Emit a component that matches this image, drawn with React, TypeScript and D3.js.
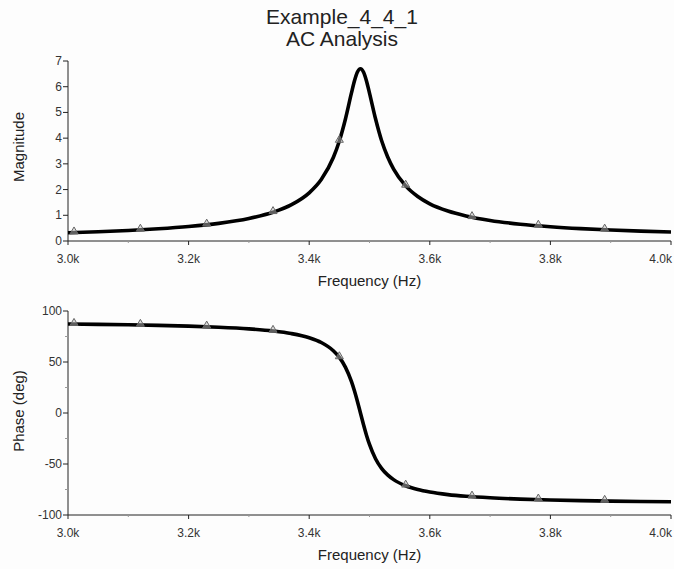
import React from "react";
import * as d3 from "d3";

const freqHz = [3000, 3050, 3100, 3150, 3200, 3250, 3300, 3340, 3370, 3400, 3420, 3440, 3450, 3460, 3470, 3475, 3480, 3485, 3490, 3495, 3500, 3510, 3520, 3530, 3540, 3560, 3580, 3600, 3630, 3660, 3700, 3750, 3800, 3850, 3900, 3950, 4000];
const magnitude = [0.32, 0.36, 0.41, 0.475, 0.562, 0.686, 0.876, 1.118, 1.404, 1.874, 2.391, 3.245, 3.89, 4.736, 5.748, 6.222, 6.571, 6.7, 6.571, 6.224, 5.753, 4.753, 3.908, 3.279, 2.798, 2.144, 1.731, 1.447, 1.166, 0.975, 0.8, 0.654, 0.555, 0.482, 0.427, 0.383, 0.348];
const phaseDeg = [87.26, 86.92, 86.49, 85.94, 85.19, 84.12, 82.49, 80.39, 77.9, 73.76, 69.09, 61.03, 54.51, 45.02, 30.93, 21.78, 11.28, 0, -11.27, -21.72, -30.84, -44.82, -54.25, -60.72, -65.33, -71.33, -75.03, -77.51, -79.99, -81.65, -83.15, -84.4, -85.25, -85.88, -86.35, -86.72, -87.02];

const markerFreqHz = [3010, 3120, 3230, 3340, 3450, 3560, 3670, 3780, 3890];
const markerMag = [0.327, 0.434, 0.631, 1.118, 3.89, 2.144, 0.923, 0.59, 0.437];
const markerPhase = [87.2, 86.29, 84.6, 80.39, 54.51, -71.33, -82.08, -84.95, -86.26];

const xTicks = [3000, 3200, 3400, 3600, 3800, 4000];
const xTickLabels = ["3.0k", "3.2k", "3.4k", "3.6k", "3.8k", "4.0k"];
const xMinorTicks = [3100, 3300, 3500, 3700, 3900];
const magTicks = [0, 1, 2, 3, 4, 5, 6, 7];
const phaseTicks = [-100, -50, 0, 50, 100];
const phaseMinorTicks = [-75, -25, 25, 75];

const W = 674;
const H = 569;
const left = 68;
const right = 671;

const x = d3.scaleLinear().domain([3000, 4000]).range([left, right]);
const yMag = d3.scaleLinear().domain([0, 7]).range([241, 61]);
const yPh = d3.scaleLinear().domain([-100, 100]).range([515, 311]);

const font = "'Liberation Sans', Arial, sans-serif";

function Panel({ y, ticks, minor, values, mFreq, mVals, yLabel, labelY }: any) {
  const [y0, y1] = y.range();
  const line = d3
    .line<number>()
    .x((_, i) => x(freqHz[i]))
    .y((v) => y(v))
    .curve(d3.curveMonotoneX);
  const tri = d3.symbol().type(d3.symbolTriangle).size(28)();
  return (
    <g>
      <line x1={left} x2={left} y1={y1} y2={y0} stroke="#222" strokeWidth={1} />
      <line x1={left} x2={right} y1={y0} y2={y0} stroke="#222" strokeWidth={1} />
      {ticks.map((t: number) => (
        <g key={"yt" + t}>
          <line x1={left - 5} x2={left} y1={y(t)} y2={y(t)} stroke="#222" />
          <text x={left - 6} y={y(t) + 4} textAnchor="end" fontSize={12} fill="#333" fontFamily={font}>
            {t}
          </text>
        </g>
      ))}
      {minor.map((t: number) => (
        <line key={"ym" + t} x1={left - 3} x2={left} y1={y(t)} y2={y(t)} stroke="#999" />
      ))}
      {xTicks.map((t, i) => (
        <g key={"xt" + t}>
          <line x1={x(t)} x2={x(t)} y1={y0} y2={y0 + 4} stroke="#222" />
          <text
            x={i === xTicks.length - 1 ? x(t) + 1 : x(t)}
            y={y0 + 22}
            textAnchor={i === xTicks.length - 1 ? "end" : "middle"}
            fontSize={12}
            fill="#333"
            fontFamily={font}
          >
            {xTickLabels[i]}
          </text>
        </g>
      ))}
      {xMinorTicks.map((t) => (
        <line key={"xm" + t} x1={x(t)} x2={x(t)} y1={y0} y2={y0 + 2} stroke="#999" />
      ))}
      <text x={(left + right) / 2} y={y0 + 45} textAnchor="middle" fontSize={15} fill="#222" fontFamily={font}>
        Frequency (Hz)
      </text>
      <text
        transform={`translate(24,${labelY}) rotate(-90)`}
        textAnchor="middle"
        fontSize={15}
        fill="#222"
        fontFamily={font}
      >
        {yLabel}
      </text>
      <path d={line(values) || ""} fill="none" stroke="#000" strokeWidth={3.6} strokeLinejoin="round" />
      {mFreq.map((f: number, i: number) => (
        <path
          key={"m" + i}
          d={tri || ""}
          transform={`translate(${x(f)},${y(mVals[i]) - 1})`}
          fill="#bbb"
          fillOpacity={0.5}
          stroke="#666"
          strokeWidth={1}
        />
      ))}
    </g>
  );
}

export default function App() {
  return (
    <svg
      width={W}
      height={H}
      style={{ position: "absolute", left: 0, top: 0, background: "#fdfdfd" }}
    >
      <text x={342} y={24} textAnchor="middle" fontSize={21} fill="#222" fontFamily={font}>
        Example_4_4_1
      </text>
      <text x={342} y={46} textAnchor="middle" fontSize={21} fill="#222" fontFamily={font}>
        AC Analysis
      </text>
      <Panel
        y={yMag}
        ticks={magTicks}
        minor={[]}
        values={magnitude}
        mFreq={markerFreqHz}
        mVals={markerMag}
        yLabel="Magnitude"
        labelY={147}
      />
      <Panel
        y={yPh}
        ticks={phaseTicks}
        minor={phaseMinorTicks}
        values={phaseDeg}
        mFreq={markerFreqHz}
        mVals={markerPhase}
        yLabel="Phase (deg)"
        labelY={411}
      />
    </svg>
  );
}
